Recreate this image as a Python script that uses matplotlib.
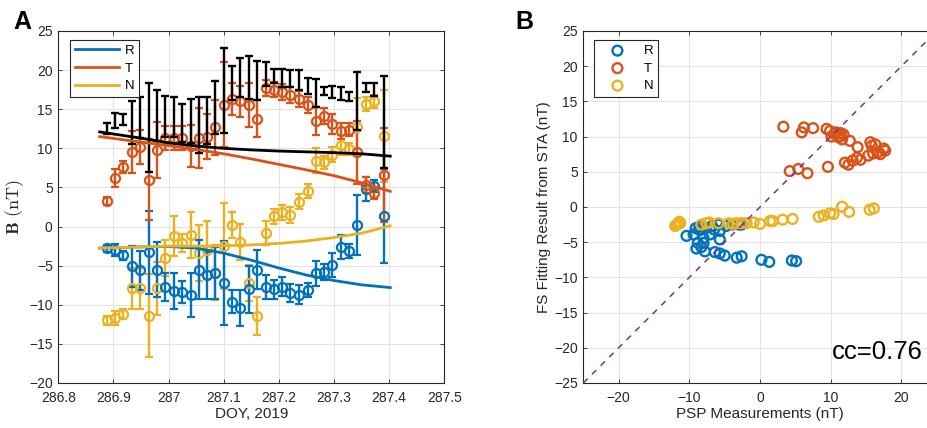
import matplotlib
matplotlib.use("Agg")
import matplotlib.pyplot as plt

plt.rcParams['font.family'] = ['Liberation Sans', 'DejaVu Sans']
plt.rcParams['mathtext.fontset'] = 'cm'

# ---------------- Panel A data ----------------
doy = [286.888, 286.903, 286.918, 286.933, 286.948, 286.964, 286.979, 286.994,
       287.009, 287.024, 287.040, 287.055, 287.070, 287.085, 287.100, 287.115,
       287.130, 287.146, 287.161, 287.176, 287.191, 287.206, 287.221, 287.237,
       287.252, 287.267, 287.282, 287.297, 287.312, 287.327, 287.342, 287.358,
       287.373, 287.391]

BR = [-2.8, -3.0, -3.7, -5.1, -5.6, -3.3, -5.5, -7.7, -8.2, -8.4, -8.7, -5.5,
      -6.2, -5.9, -7.2, -9.6, -10.4, -8.0, -5.5, -7.7, -8.0, -7.7, -8.5, -8.7,
      -8.1, -6.0, -5.8, -4.9, -2.6, -3.1, 0.2, 4.8, 5.2, 1.3]
BR_err = [0.4, 0.8, 0.6, 2.6, 2.5, 5.3, 3.5, 1.8, 2.3, 1.4, 2.8, 3.8, 3.0, 3.3,
          5.4, 1.5, 2.3, 3.0, 2.5, 1.5, 1.2, 1.2, 1.2, 1.2, 0.9, 1.6, 1.0, 1.5,
          1.5, 0.9, 3.8, 1.5, 0.8, 6.0]

BT = [3.3, 6.2, 7.6, 9.5, 10.2, 6.0, 9.8, 11.3, 11.3, 11.3, 10.3, 11.3, 11.5,
      12.7, 15.6, 16.3, 16.0, 15.5, 13.8, 17.7, 17.5, 17.2, 16.8, 16.3, 15.5,
      13.5, 14.1, 13.1, 12.2, 12.4, 9.5, 5.3, 4.3, 6.6]
BT_err = [0.5, 1.2, 0.8, 2.7, 2.2, 5.2, 3.6, 1.5, 1.5, 1.5, 2.7, 3.8, 2.9, 3.5,
          5.4, 2.0, 2.0, 2.8, 2.4, 1.0, 1.0, 1.0, 1.0, 1.0, 1.0, 1.8, 1.0, 1.3,
          1.0, 0.8, 4.0, 1.0, 0.8, 6.0]

BN = [-12.0, -11.7, -11.2, -7.9, -7.9, -11.4, -7.9, -4.0, -1.2, -2.1, -1.1,
      -3.4, -3.0, -5.9, -2.5, 0.2, -2.0, -7.2, -11.4, -0.8, 1.3, 1.8, 1.5, 3.2,
      4.6, 8.4, 8.2, 9.2, 10.4, 9.9, 12.7, 15.7, 16.0, 11.6]
BN_err = [0.6, 0.9, 0.6, 2.6, 2.6, 5.3, 3.4, 2.3, 2.6, 1.2, 2.9, 3.6, 3.7, 3.5,
          5.5, 1.6, 2.3, 2.3, 2.4, 1.5, 1.0, 1.0, 1.0, 1.0, 0.9, 1.6, 0.8, 1.0,
          1.3, 0.8, 3.7, 0.9, 0.8, 5.9]

Bmag = [12.5, 13.55, 13.7, 13.35, 13.9, 12.7, 14.2, 14.1, 14.05, 13.25, 13.5,
        13.0, 13.5, 15.2, 17.35, 18.35, 19.05, 19.05, 18.7, 19.5, 19.25, 18.95,
        18.9, 18.7, 18.0, 17.1, 17.3, 17.2, 17.0, 16.6, 16.05, 17.8, 17.55, 13.4]
Bmag_err = [0.7, 0.95, 0.7, 2.75, 2.6, 5.7, 3.2, 2.6, 2.55, 2.45, 2.8, 3.6, 3.0,
            3.4, 5.45, 2.15, 2.45, 2.75, 2.5, 1.5, 0.95, 1.15, 1.1, 1.3, 1.0,
            1.8, 0.5, 0.8, 0.8, 0.6, 3.65, 0.6, 0.85, 5.9]

fit_doy = [286.875, 286.95, 287.0, 287.05, 287.1, 287.15, 287.2, 287.25,
           287.3, 287.35, 287.402]
fit_mag = [12.1, 11.3, 10.7, 10.3, 10.0, 9.8, 9.65, 9.55, 9.45, 9.3, 9.0]
fit_T = [11.5, 10.8, 10.35, 9.85, 9.3, 8.65, 7.95, 7.25, 6.5, 5.6, 4.5]
fit_R = [-2.75, -2.6, -2.55, -2.75, -3.4, -4.3, -5.3, -6.2, -6.9, -7.45, -7.8]
fit_N = [-2.75, -2.6, -2.5, -2.5, -2.45, -2.35, -2.15, -1.85, -1.4, -0.85, 0.1]

xticks_A = [286.8, 286.9, 287.0, 287.1, 287.2, 287.3, 287.4, 287.5]
xticklabels_A = ['286.8', '286.9', '287', '287.1', '287.2', '287.3', '287.4',
                 '287.5']

# ---------------- Panel B data ----------------
R_meas = [-10.4, -9.4, -9.1, -8.6, -7.7, -6.8, -5.9, -4.8, -3.9, -3.0, -2.6,
          -8.0, -7.1, -5.7, -8.8, -8.0, -9.0, -8.3, -7.8, -5.7, -6.4, -5.7,
          -5.0, -3.3, -2.6, 0.2, 1.3, 4.5, 5.1, -6.5, -8.5]
R_fit = [-4.1, -3.9, -3.0, -2.8, -3.0, -2.7, -2.5, -2.7, -2.5, -2.5, -2.5,
         -4.4, -3.9, -3.4, -5.1, -5.1, -5.9, -5.7, -6.3, -4.6, -6.4, -6.6,
         -6.9, -7.2, -7.0, -7.5, -7.8, -7.6, -7.7, -3.2, -3.3]

T_meas = [3.3, 5.9, 6.2, 7.5, 4.2, 5.4, 6.7, 9.6, 9.4, 9.9, 10.1, 10.8, 11.3,
          11.6, 11.8, 11.1, 12.7, 13.8, 12.0, 12.5, 13.1, 13.7, 14.2, 15.3,
          15.6, 15.8, 16.3, 16.0, 16.7, 17.5, 17.7, 17.0, 10.5, 11.4]
T_fit = [11.4, 10.6, 11.3, 11.2, 5.1, 5.4, 4.8, 5.7, 11.1, 10.8, 10.0, 10.6,
         10.1, 9.6, 10.3, 9.9, 9.4, 8.5, 6.3, 6.0, 6.6, 7.0, 6.7, 7.3, 9.2,
         8.7, 8.9, 7.6, 7.8, 8.3, 8.0, 7.5, 10.4, 10.5]

N_meas = [-12.0, -11.8, -11.4, -11.3, -8.3, -7.6, -7.2, -5.9, -4.4, -3.8,
          -3.3, -2.6, -1.9, -0.9, 0.0, 1.4, 1.8, 3.2, 4.6, 8.3, 9.0, 9.9, 10.4,
          11.6, 12.6, 15.5, 16.1, -11.6]
N_fit = [-2.7, -2.5, -2.1, -2.3, -2.5, -2.3, -2.2, -2.3, -2.3, -2.4, -2.3,
         -2.3, -2.3, -2.2, -2.4, -2.0, -2.0, -1.8, -1.7, -1.4, -1.2, -0.9, -1.0,
         0.05, -0.7, -0.4, -0.2, -2.4]

diag_xy = [-25, 25]
cc_text = "cc=0.76"

C_R = '#0072BD'
C_T = '#D95319'
C_N = '#EDB120'
C_K = '#000000'
C_DIAG = '#7E2F8E'
AX_COL = '#262626'

fig = plt.figure(figsize=(9.28, 4.28), dpi=100)

def style_axes(ax):
    ax.grid(True, color='#e3e3e3', linewidth=0.8)
    ax.set_axisbelow(True)
    for s in ax.spines.values():
        s.set_color(AX_COL)
        s.set_linewidth(0.8)
    ax.tick_params(direction='in', length=3, width=0.6, colors=AX_COL,
                   labelsize=10, top=True, right=True, labelcolor='#262626')
    ax.tick_params(axis='x', pad=6)
    ax.tick_params(axis='y', pad=4)

# ---------- Panel A ----------
axA = fig.add_axes([58.3 / 928, 45 / 428, 386 / 928, 352 / 428])
style_axes(axA)
ekw = dict(fmt='o', markersize=6.5, markerfacecolor='none', markeredgewidth=1.6,
           elinewidth=1.7, capsize=3, capthick=1.7)
axA.errorbar(doy, BN, yerr=BN_err, color=C_N, zorder=3, **ekw)
axA.errorbar(doy, BR, yerr=BR_err, color=C_R, zorder=3, **ekw)
axA.errorbar(doy, BT, yerr=BT_err, color=C_T, zorder=3, **ekw)
axA.errorbar(doy, Bmag, yerr=Bmag_err, fmt='none', color=C_K, elinewidth=1.7,
             capsize=3, capthick=1.7, zorder=4)
axA.plot(fit_doy, fit_R, color=C_R, lw=2, label='R', zorder=5)
axA.plot(fit_doy, fit_T, color=C_T, lw=2, label='T', zorder=5)
axA.plot(fit_doy, fit_N, color=C_N, lw=2, label='N', zorder=5)
axA.plot(fit_doy, fit_mag, color=C_K, lw=2, zorder=5)
axA.set_xlim(286.8, 287.5)
axA.set_ylim(-20, 25)
axA.set_xticks(xticks_A)
axA.set_xticklabels(xticklabels_A)
axA.set_yticks(range(-20, 26, 5))
axA.set_xlabel('DOY, 2019', fontsize=11, color='#262626', labelpad=1)
axA.set_ylabel(r'$\mathbf{B}\ (\mathrm{nT})$', fontsize=13, color='#262626',
               labelpad=2)
legA = axA.legend(loc='upper left', fontsize=9.5, handlelength=3.4,
                  handletextpad=0.4, borderpad=0.35, labelspacing=0.4,
                  fancybox=False, framealpha=1, edgecolor=AX_COL,
                  bbox_to_anchor=(0.02, 0.985), borderaxespad=0.3)
legA.get_frame().set_linewidth(0.8)
fig.text(13 / 928, 1 - 22 / 428, 'A', fontsize=18, fontweight='bold',
         va='center', ha='left')

# ---------- Panel B ----------
axB = fig.add_axes([583.3 / 928, 45 / 428, 353.5 / 928, 352 / 428])
style_axes(axB)
skw = dict(marker='o', s=50, facecolors='none', linewidths=1.7)
axB.scatter(R_meas, R_fit, edgecolors=C_R, label='R', zorder=3, **skw)
axB.scatter(T_meas, T_fit, edgecolors=C_T, label='T', zorder=3, **skw)
axB.scatter(N_meas, N_fit, edgecolors=C_N, label='N', zorder=3, **skw)
axB.plot(diag_xy, diag_xy, color=C_DIAG, lw=1.1, ls=(0, (4, 4)), zorder=4)
axB.set_xlim(-25, 25)
axB.set_ylim(-25, 25)
axB.set_xticks([-20, -10, 0, 10, 20])
axB.set_yticks(range(-25, 26, 5))
axB.set_xlabel('PSP Measurements (nT)', fontsize=11, color='#262626', labelpad=1)
axB.set_ylabel('FS Fitting Result from STA (nT)', fontsize=11, color='#262626',
               labelpad=2)
legB = axB.legend(loc='upper left', fontsize=9.5, handlelength=2.8,
                  handletextpad=0.6, borderpad=0.35, labelspacing=0.4,
                  fancybox=False, framealpha=1, edgecolor=AX_COL,
                  bbox_to_anchor=(0.02, 0.985), borderaxespad=0.3,
                  markerfirst=True)
legB.get_frame().set_linewidth(0.8)
axB.text(10.1, -20.6, cc_text, fontsize=18.5, color='#000000', va='center',
         ha='left', zorder=6)
fig.text(515 / 928, 1 - 22 / 428, 'B', fontsize=18, fontweight='bold',
         va='center', ha='left')

fig.savefig('out.png', dpi=100)
